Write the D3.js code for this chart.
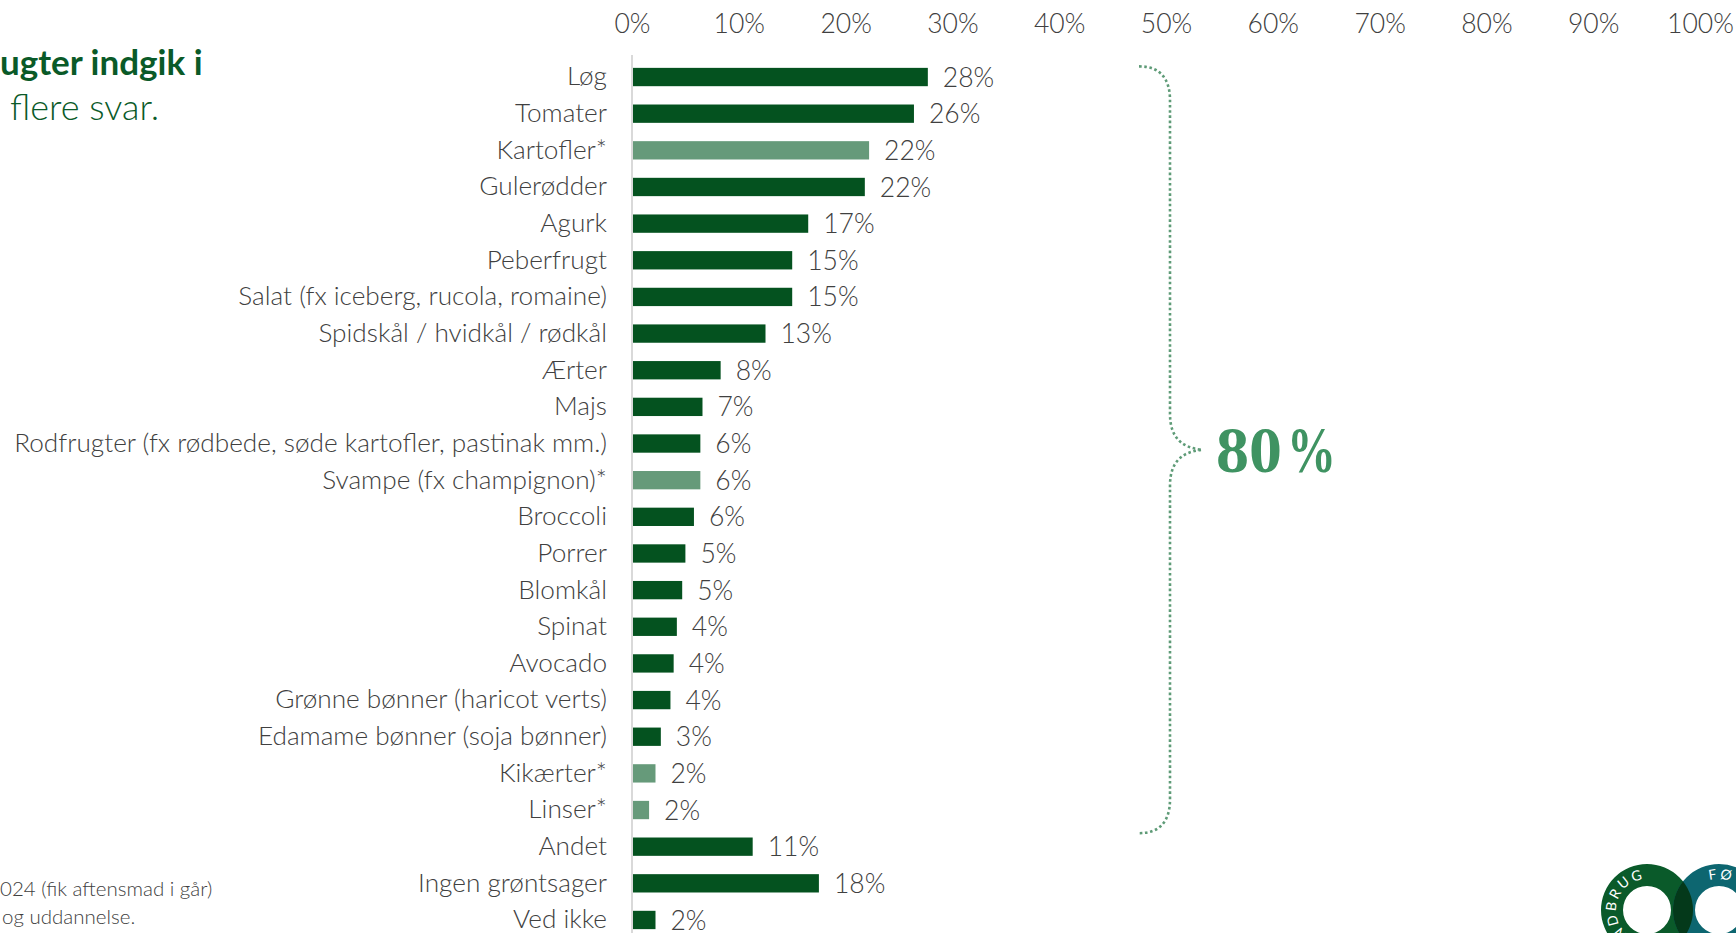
<!DOCTYPE html>
<html>
<head>
<meta charset="utf-8">
<script src="https://cdn.jsdelivr.net/npm/d3@7"></script>
<style>
  html, body { margin: 0; padding: 0; background: #ffffff; }
  svg { display: block; }
  text { font-family: "Lato", "Open Sans", sans-serif; }
</style>
</head>
<body>
<svg id="chart" width="1736" height="933"></svg>
<script>
// ---- data ----
const categories = [
  "Løg", "Tomater", "Kartofler*", "Gulerødder", "Agurk", "Peberfrugt",
  "Salat (fx iceberg, rucola, romaine)", "Spidskål / hvidkål / rødkål", "Ærter", "Majs",
  "Rodfrugter (fx rødbede, søde kartofler, pastinak mm.)", "Svampe (fx champignon)*",
  "Broccoli", "Porrer", "Blomkål", "Spinat", "Avocado", "Grønne bønner (haricot verts)",
  "Edamame bønner (soja bønner)", "Kikærter*", "Linser*", "Andet", "Ingen grøntsager", "Ved ikke"
];
const values = [
  27.7, 26.4, 22.2, 21.8, 16.5, 15.0,
  15.0, 12.5, 8.3, 6.6,
  6.4, 6.4,
  5.8, 5.0, 4.7, 4.2, 3.9, 3.6,
  2.7, 2.2, 1.6, 11.3, 17.5, 2.2
];
const valueLabels = [
  "28%", "26%", "22%", "22%", "17%", "15%",
  "15%", "13%", "8%", "7%",
  "6%", "6%",
  "6%", "5%", "5%", "4%", "4%", "4%",
  "3%", "2%", "2%", "11%", "18%", "2%"
];
const tickValues = [0, 10, 20, 30, 40, 50, 60, 70, 80, 90, 100];
const bracketLabel = "80";
const bracketUnit = "%";
const titleLine1 = "ugter indgik i";
const titleLine2 = "flere svar.";
const footLine1 = "024 (fik aftensmad i går)";
const footLine2 = "og uddannelse.";
const logoLeft = "NDBRUG";
const logoRight = "FØ";

// ---- styles ----
const darkGreen = "#04521f";
const lightGreen = "#669a7a";
const textGray = "#404040";

const svg = d3.select("#chart");

const x = d3.scaleLinear().domain([0, 100]).range([632, 1700]);
const y = d3.scaleBand().domain(categories).range([58.7, 938.3]).paddingInner(0.5).paddingOuter(0.25);

// top axis
const xAxis = svg.append("g")
  .attr("transform", "translate(0,24)")
  .call(d3.axisTop(x).tickValues(tickValues).tickSize(0).tickPadding(0).tickFormat(d => d + "%"));
xAxis.select(".domain").remove();
xAxis.selectAll("text")
  .attr("dy", "0.35em")
  .style("font-family", "Lato").style("font-weight", 300)
  .style("font-size", "26.5px").attr("fill", textGray);

// left axis
const yAxis = svg.append("g")
  .attr("transform", "translate(632,0)")
  .call(d3.axisLeft(y).tickSize(0).tickPadding(25));
yAxis.select(".domain").remove();
yAxis.selectAll("text")
  .style("font-family", "Lato").style("font-weight", 300)
  .style("font-size", "26.2px").attr("fill", textGray);
svg.append("line")
  .attr("x1", x(0)).attr("x2", x(0))
  .attr("y1", 55).attr("y2", 933)
  .attr("stroke", "#d9d9d9").attr("stroke-width", 2);

// bars
svg.append("g").selectAll("rect")
  .data(categories)
  .join("rect")
  .attr("x", x(0) + 1)
  .attr("y", d => y(d))
  .attr("height", y.bandwidth())
  .attr("width", (d, i) => x(values[i]) - x(0) - 1)
  .attr("fill", d => d.endsWith("*") ? lightGreen : darkGreen);

// value labels
svg.append("g").selectAll("text")
  .data(categories)
  .join("text")
  .attr("x", (d, i) => x(values[i]) + 15)
  .attr("y", d => y(d) + y.bandwidth() / 2)
  .attr("dy", "0.36em")
  .style("font-weight", 300)
  .style("font-size", "26.5px")
  .attr("fill", textGray)
  .text((d, i) => valueLabels[i]);

// bracket
const bx = 1170;
const yTop = y(categories[0]) - 1.5;
const yBot = y(categories[20]) + y.bandwidth() + 14;
const tipY = (yTop + yBot) / 2;
const tipX = 1202;
const bracketPath = d3.path();
bracketPath.moveTo(bx - 31, yTop);
bracketPath.bezierCurveTo(bx - 10, yTop, bx, yTop + 12, bx, yTop + 34);
bracketPath.lineTo(bx, tipY - 36);
bracketPath.bezierCurveTo(bx, tipY - 12, bx + 12, tipY - 2, tipX, tipY);
bracketPath.bezierCurveTo(bx + 12, tipY + 2, bx, tipY + 12, bx, tipY + 36);
bracketPath.lineTo(bx, yBot - 34);
bracketPath.bezierCurveTo(bx, yBot - 12, bx - 10, yBot, bx - 31, yBot);
svg.append("path")
  .attr("d", bracketPath.toString())
  .attr("fill", "none")
  .attr("stroke", "#5e9b77")
  .attr("stroke-width", 2.6)
  .attr("stroke-dasharray", "2.6 2.6");

svg.append("text")
  .attr("x", 1216).attr("y", 472)
  .style("font-family", "Liberation Serif").style("font-weight", 700)
  .style("font-size", "66px")
  .attr("fill", "#3f9362")
  .text(bracketLabel);
svg.append("text")
  .attr("x", 1287).attr("y", 472)
  .style("font-family", "Liberation Serif").style("font-weight", 700)
  .style("font-size", "66px")
  .attr("textLength", 49).attr("lengthAdjust", "spacingAndGlyphs")
  .attr("fill", "#3f9362")
  .text(bracketUnit);

// title (cropped at left edge)
svg.append("text")
  .attr("x", 0).attr("y", 75)
  .style("font-weight", 700).style("font-size", "35px")
  .attr("fill", "#0a5a28")
  .text(titleLine1);
svg.append("text")
  .attr("x", 10).attr("y", 120)
  .style("font-weight", 300).style("font-size", "36px")
  .attr("fill", "#0a5a28")
  .text(titleLine2);

// footer
svg.append("text")
  .attr("x", 0).attr("y", 896)
  .style("font-weight", 300).style("font-size", "20.5px")
  .attr("fill", textGray)
  .text(footLine1);
svg.append("text")
  .attr("x", 2).attr("y", 924)
  .style("font-weight", 300).style("font-size", "20.5px")
  .attr("fill", textGray)
  .text(footLine2);

// logo
const lg = svg.append("g");
const cy = 910, c1 = 1647, c2 = 1719, rOut = 46, rIn = 24;
function ring(cx) {
  return `M${cx - rOut},${cy} a${rOut},${rOut} 0 1,0 ${2 * rOut},0 a${rOut},${rOut} 0 1,0 ${-2 * rOut},0 Z ` +
         `M${cx - rIn},${cy} a${rIn},${rIn} 0 1,0 ${2 * rIn},0 a${rIn},${rIn} 0 1,0 ${-2 * rIn},0 Z`;
}
const defs = svg.append("defs");
defs.append("clipPath").attr("id", "clipGreen")
  .append("path").attr("d", ring(c1)).attr("clip-rule", "evenodd");
lg.append("path").attr("d", ring(c1)).attr("fill", "#0a5a2a").attr("fill-rule", "evenodd");
lg.append("path").attr("d", ring(c2)).attr("fill", "#0d6670").attr("fill-rule", "evenodd");
lg.append("path").attr("d", ring(c2)).attr("fill", "#04391a").attr("fill-rule", "evenodd")
  .attr("clip-path", "url(#clipGreen)");
function circPath(cx, r) {
  // start at bottom, clockwise
  return `M${cx},${cy + r} A${r},${r} 0 1,1 ${cx},${cy - r} A${r},${r} 0 1,1 ${cx},${cy + r}`;
}
const rt = 31;
defs.append("path").attr("id", "pathL").attr("d", circPath(c1, rt));
defs.append("path").attr("id", "pathR").attr("d", circPath(c2, rt));
const circ = 2 * Math.PI * rt;
lg.append("text")
  .style("font-size", "14px").style("font-weight", 400).style("letter-spacing", "2.5px")
  .attr("fill", "#ffffff")
  .append("textPath").attr("href", "#pathL")
  .attr("startOffset", circ * 0.5 - 2).attr("text-anchor", "end")
  .text(logoLeft);
lg.append("text")
  .style("font-size", "14px").style("font-weight", 400).style("letter-spacing", "2.5px")
  .attr("fill", "#ffffff")
  .append("textPath").attr("href", "#pathR")
  .attr("startOffset", circ * 0.5 - 10)
  .text(logoRight);
</script>
</body>
</html>
